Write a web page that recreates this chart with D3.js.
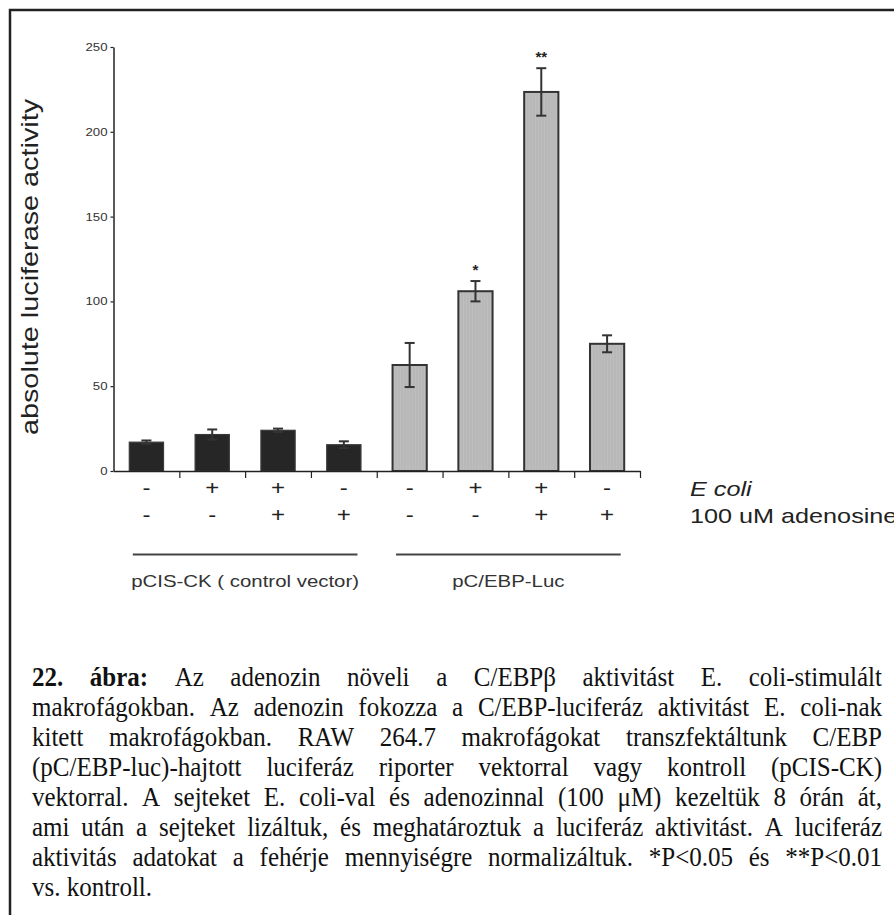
<!DOCTYPE html>
<html>
<head>
<meta charset="utf-8">
<script src="https://cdn.jsdelivr.net/npm/d3@7"></script>
<style>
  html, body { margin: 0; padding: 0; background: #fff; }
  svg { display: block; }
</style>
</head>
<body>
<script>
// ---- data ----
const vectors = ["pCIS-CK ( control vector)", "pC/EBP-Luc"];
const vectorOf = [0, 0, 0, 0, 1, 1, 1, 1];
const eColi = ["-", "+", "+", "-", "-", "+", "+", "-"];
const adenosine = ["-", "-", "+", "+", "-", "-", "+", "+"];
const activity = [17, 21.5, 24, 15.5, 62.5, 106, 223.5, 75];
const sem = [1, 3, 1, 2, 13, 6, 14, 5];
const significance = ["", "", "", "", "", "*", "**", ""];
const yTicks = [0, 50, 100, 150, 200, 250];
const rowLabels = ["E coli", "100 uM adenosine"];
const yTitle = "absolute luciferase activity";
const captionLead = ["22.", "ábra:"];
const captionLines = [
  "22. ábra: Az adenozin növeli a C/EBPβ aktivitást E. coli-stimulált",
  "makrofágokban. Az adenozin fokozza a C/EBP-luciferáz aktivitást E. coli-nak",
  "kitett makrofágokban. RAW 264.7 makrofágokat transzfektáltunk C/EBP",
  "(pC/EBP-luc)-hajtott luciferáz riporter vektorral vagy kontroll (pCIS-CK)",
  "vektorral. A sejteket E. coli-val és adenozinnal (100 μM) kezeltük 8 órán át,",
  "ami után a sejteket lizáltuk, és meghatároztuk  a luciferáz aktivitást. A luciferáz",
  "aktivitás adatokat a fehérje mennyiségre normalizáltuk. *P<0.05 és **P<0.01",
  "vs. kontroll."
];

// ---- layout ----
const W = 894, H = 915;
const sans = "'Liberation Sans', Arial, Helvetica, sans-serif";
const serif = "'Liberation Serif', 'Times New Roman', Times, serif";
const WIDE = 1.2;   // chart lettering is set slightly wide
const TALL = 1.08;  // caption lettering is set slightly tall

const svg = d3.select("body").append("svg")
  .attr("width", W).attr("height", H)
  .attr("viewBox", `0 0 ${W} ${H}`);

// stretch text horizontally along its run
function widen(sel, k) {
  sel.each(function () {
    const w = this.getComputedTextLength();
    this.setAttribute("textLength", (w * k).toFixed(2));
    this.setAttribute("lengthAdjust", "spacingAndGlyphs");
  });
}

// figure frame (right and bottom edges run past the page)
svg.append("rect")
  .attr("x", 10).attr("y", 10)
  .attr("width", W + 20).attr("height", H + 20)
  .attr("fill", "none").attr("stroke", "#222").attr("stroke-width", 2.5);

// faint vertical grain of the grey bars
const defs = svg.append("defs");
const pat = defs.append("pattern").attr("id", "grain")
  .attr("patternUnits", "userSpaceOnUse").attr("width", 3).attr("height", 4);
pat.append("rect").attr("width", 3).attr("height", 4).attr("fill", "#b8b8b8");
pat.append("rect").attr("x", 1).attr("width", 1).attr("height", 4).attr("fill", "#bdbdbd");

const axisX0 = 113.5, axisX1 = 640, axisY0 = 471, axisYTop = 47;

const y = d3.scaleLinear().domain([0, 250]).range([axisY0, axisYTop]);
const idx = d3.range(activity.length);
const x = d3.scaleBand().domain(idx).range([axisX0, axisX1]).paddingInner(0.48).paddingOuter(0.24);
const xb = d3.scaleLinear().domain([0, activity.length]).range([axisX0, axisX1]);
const bw = x.bandwidth();
const cx = i => x(i) + bw / 2;

// ---- bars ----
const g = svg.append("g");
g.selectAll("rect.bar").data(idx).join("rect")
  .attr("class", "bar")
  .attr("x", i => x(i))
  .attr("y", i => y(activity[i]))
  .attr("width", bw)
  .attr("height", i => y(0) - y(activity[i]))
  .attr("fill", i => vectorOf[i] === 0 ? "#262626" : "url(#grain)")
  .attr("stroke", i => vectorOf[i] === 0 ? "#3a3a3a" : "#333")
  .attr("stroke-width", i => vectorOf[i] === 0 ? 1.2 : 2);

// ---- error bars ----
const eb = g.selectAll("g.err").data(idx).join("g").attr("class", "err")
  .attr("stroke", "#333").attr("stroke-width", 2);
eb.append("line")
  .attr("x1", cx).attr("x2", cx)
  .attr("y1", i => y(activity[i] - sem[i])).attr("y2", i => y(activity[i] + sem[i]));
eb.append("line")
  .attr("x1", i => cx(i) - 5).attr("x2", i => cx(i) + 5)
  .attr("y1", i => y(activity[i] + sem[i])).attr("y2", i => y(activity[i] + sem[i]));
eb.append("line")
  .attr("x1", i => cx(i) - 5).attr("x2", i => cx(i) + 5)
  .attr("y1", i => y(activity[i] - sem[i])).attr("y2", i => y(activity[i] - sem[i]));

// ---- significance marks ----
g.selectAll("text.sig").data(idx.filter(i => significance[i])).join("text")
  .attr("class", "sig")
  .attr("x", cx)
  .attr("y", i => y(activity[i] + sem[i]) - 6)
  .attr("text-anchor", "middle")
  .attr("font-family", sans).attr("font-size", 15).attr("font-weight", "bold")
  .attr("fill", "#222")
  .text(i => significance[i]);

// ---- y axis ----
const yAxis = svg.append("g")
  .attr("transform", `translate(${axisX0},0)`)
  .call(d3.axisLeft(y).tickValues(yTicks).tickSize(3).tickPadding(3).tickSizeOuter(0));
yAxis.select(".domain").attr("stroke", "#222").attr("stroke-width", 1.5);
yAxis.selectAll(".tick line").attr("stroke", "#222").attr("stroke-width", 1.2);
yAxis.selectAll(".tick text")
  .attr("font-family", sans).attr("font-size", 11).attr("fill", "#333")
  .call(widen, WIDE);

// ---- x axis (ticks at group boundaries) ----
const xAxis = svg.append("g")
  .attr("transform", `translate(0,${axisY0})`)
  .call(d3.axisBottom(xb).tickValues(d3.range(1, activity.length + 1)).tickSize(7).tickSizeOuter(0).tickFormat(""));
xAxis.select(".domain").attr("stroke", "#222").attr("stroke-width", 1.5);
xAxis.selectAll(".tick line").attr("stroke", "#222").attr("stroke-width", 1.2);

// ---- y title ----
svg.append("text")
  .attr("transform", `translate(38,${(axisY0 + axisYTop) / 2 + 8}) rotate(-90)`)
  .attr("text-anchor", "middle")
  .attr("font-family", sans).attr("font-size", 24).attr("fill", "#222")
  .text(yTitle)
  .call(widen, WIDE);

// ---- treatment rows ----
const rows = [eColi, adenosine];
const rowBase = [495, 522];
rows.forEach((row, r) => {
  svg.append("g").selectAll("text").data(idx).join("text")
    .attr("x", cx)
    .attr("y", rowBase[r])
    .attr("text-anchor", "middle")
    .attr("font-family", sans).attr("font-size", 20).attr("fill", "#222")
    .text(i => row[i])
    .call(widen, WIDE);
  svg.append("text")
    .attr("x", 690).attr("y", rowBase[r] + 1)
    .attr("font-family", sans).attr("font-size", 21)
    .attr("font-style", r === 0 ? "italic" : "normal")
    .attr("fill", "#222")
    .text(rowLabels[r])
    .call(widen, WIDE);
});

// ---- vector groups ----
vectors.forEach((name, v) => {
  const members = idx.filter(i => vectorOf[i] === v);
  const x1 = x(members[0]) + 3.5, x2 = x(members[members.length - 1]) + bw - 3.5;
  svg.append("line")
    .attr("x1", x1).attr("x2", x2).attr("y1", 554.5).attr("y2", 554.5)
    .attr("stroke", "#444").attr("stroke-width", 2);
  svg.append("text")
    .attr("x", (x1 + x2) / 2).attr("y", 587)
    .attr("text-anchor", "middle")
    .attr("font-family", sans).attr("font-size", 17).attr("fill", "#333")
    .text(name)
    .call(widen, WIDE);
});

// ---- caption (justified) ----
const capLeft = 32, capRight = 882, capFirst = 686, capStep = 30;
let capSize = 25;
const cap = svg.append("g")
  .attr("font-family", serif).attr("fill", "#111");

function layoutCaption(size) {
  cap.selectAll("*").remove();
  cap.attr("font-size", size);
  let widest = 0;
  captionLines.forEach((line, li) => {
    const words = line.split(/\s+/);
    const t = cap.append("text")
      .attr("transform", `translate(0,${capFirst + li * capStep}) scale(1,${TALL})`);
    const spans = words.map((wd, wi) => t.append("tspan")
      .attr("font-weight", (li === 0 && wi < captionLead.length) ? "bold" : "normal")
      .text(wd));
    const widths = spans.map(s => s.node().getComputedTextLength());
    const total = d3.sum(widths);
    const space = size * 0.25;
    widest = Math.max(widest, total + space * (words.length - 1));
    const last = li === captionLines.length - 1;
    const gap = last ? space : (capRight - capLeft - total) / (words.length - 1);
    let pos = capLeft;
    spans.forEach((s, k) => { s.attr("x", pos.toFixed(2)); pos += widths[k] + gap; });
  });
  return widest;
}
const need = layoutCaption(capSize);
if (need > capRight - capLeft) {
  capSize = Math.floor(capSize * (capRight - capLeft) / need * 10) / 10;
  layoutCaption(capSize);
}
</script>
</body>
</html>
